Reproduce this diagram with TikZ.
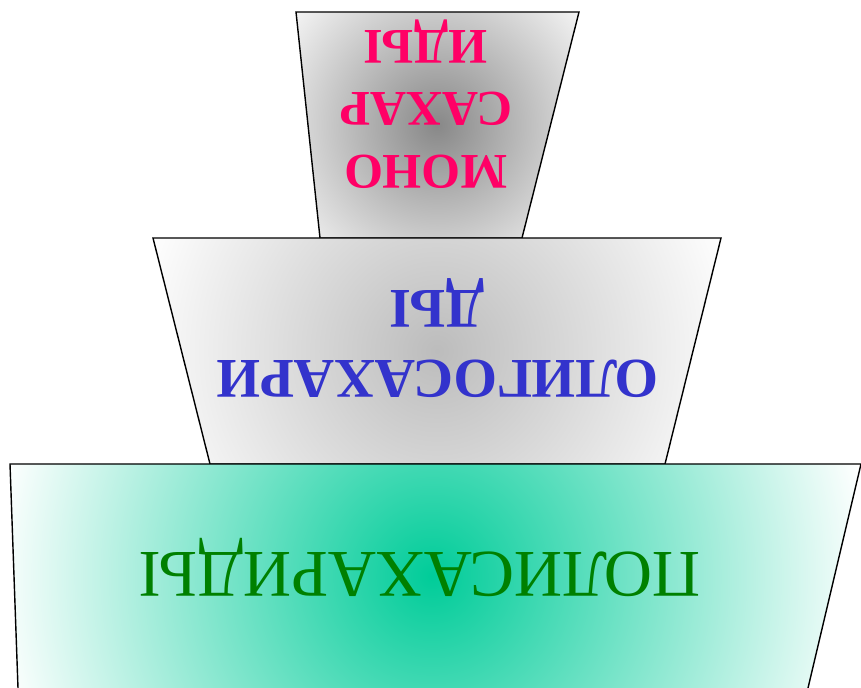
\documentclass[tikz,border=0pt]{standalone}
\usepackage{fontspec}
\setmainfont{Liberation Serif}
\usetikzlibrary{positioning}

\definecolor{monotext}{HTML}{FF0066}
\definecolor{oligotext}{HTML}{3333CC}
\definecolor{polytext}{HTML}{008000}
\definecolor{monofill}{HTML}{888888}
\definecolor{oligofill}{HTML}{BCBCBC}
\definecolor{polyfill}{HTML}{00CC99}

\tikzset{
  tier/.style={draw=black, line width=0.8pt, line join=miter},
  label/.style={rotate=180, align=center, inner sep=0pt}
}

\begin{document}
\begin{tikzpicture}[x=0.02cm, y=-0.02cm]
			\useasboundingbox (0,0) rectangle (861,688);
			% top tier
			\begin{scope}
				\clip (296,12) -- (579,12) -- (522,238) -- (320,238) -- cycle;
				\shade[inner color=monofill, outer color=white] (437,125) circle (200);
			\end{scope}
			\draw[tier] (296,12) -- (579,12) -- (522,238) -- (320,238) -- cycle;
			% middle tier
			\begin{scope}
				\clip (153,238) -- (721,238) -- (665,464) -- (210,464) -- cycle;
				\shade[inner color=oligofill, outer color=white] (437,351) circle (310);
			\end{scope}
			\draw[tier] (153,238) -- (721,238) -- (665,464) -- (210,464) -- cycle;
			% bottom tier
			\begin{scope}
				\clip (10,464) -- (861,464) -- (808,688) -- (18,688) -- cycle;
				\shade[inner color=polyfill, outer color=white] (432,576) circle (440);
			\end{scope}
			\draw[tier] (18,688) -- (10,464) -- (861,464) -- (808,688);
			% labels
			\node[label, text=monotext, font=\bfseries\fontsize{28.4}{35.5}\selectfont] (mono) at (426,104) {МОНО\\САХАР\\ИДЫ};
			\node[label, text=oligotext, font=\bfseries\fontsize{31.9}{39.7}\selectfont] (oligo) at (437.5,338) {ОЛИГОСАХАРИ\\ДЫ};
			\node[label, text=polytext, font=\fontsize{38}{45}\selectfont] (poly) at (420,567) {ПОЛИСАХАРИДЫ};
		\end{tikzpicture}
\end{document}
